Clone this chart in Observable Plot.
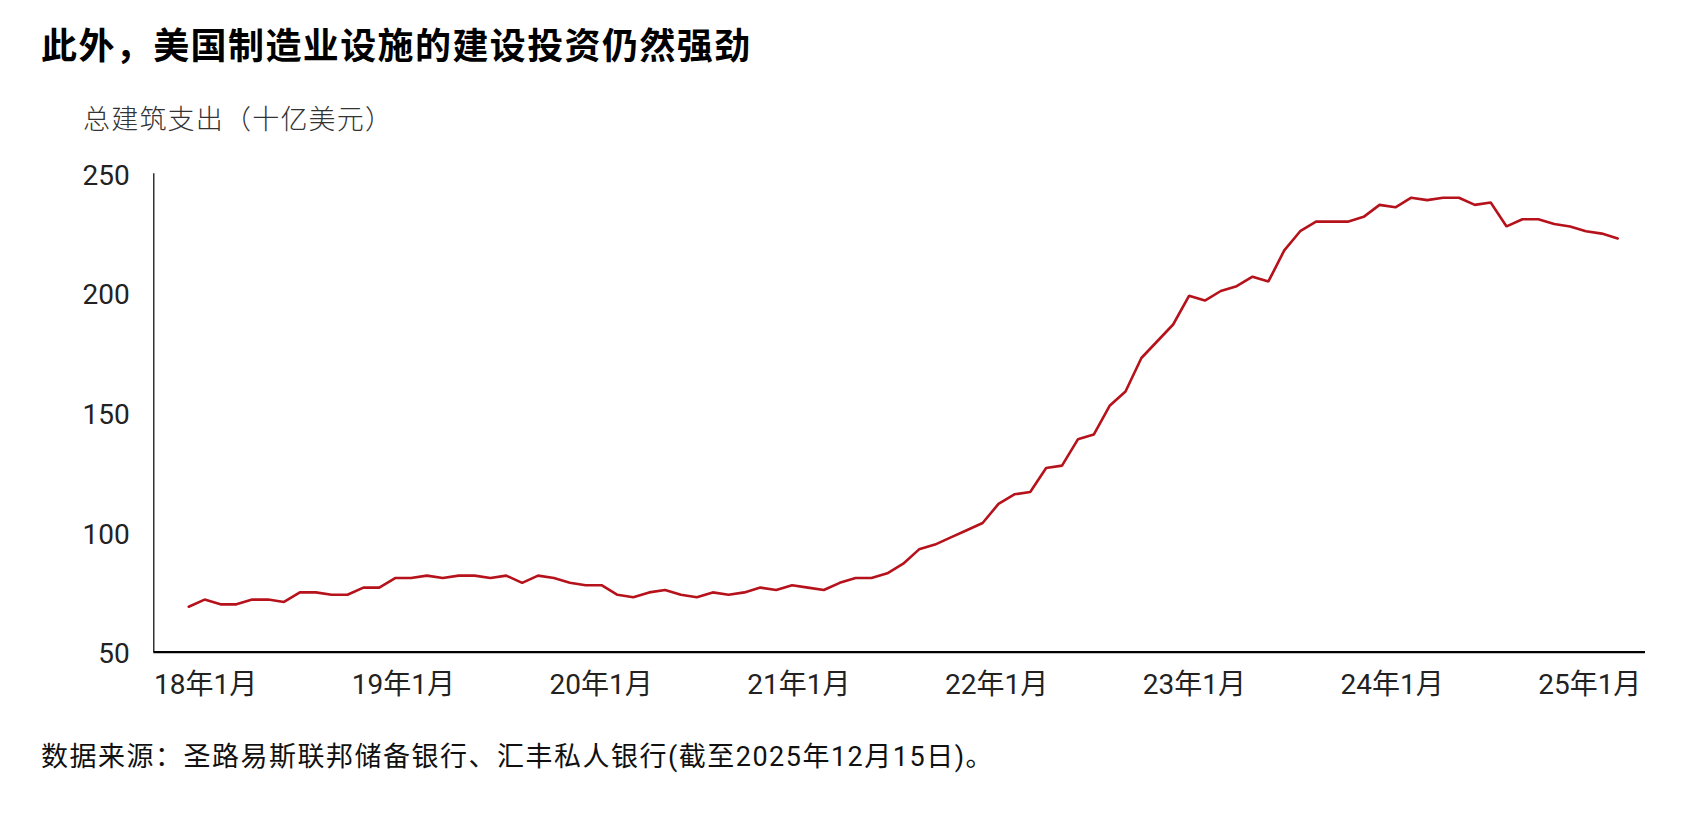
<!DOCTYPE html>
<html>
<head>
<meta charset="utf-8">
<script src="https://cdn.jsdelivr.net/npm/d3@7"></script>
<script src="https://cdn.jsdelivr.net/npm/@observablehq/plot@0.6"></script>
<style>
  html, body { margin: 0; padding: 0; background: #fff; }
  body { width: 1681px; height: 816px; position: relative; overflow: hidden; font-family: Roboto, "Noto Sans CJK SC", sans-serif; color: #111; }
  .title { position: absolute; left: 41px; top: 20px; font-family: "Noto Sans CJK SC", sans-serif; font-weight: 700; font-size: 36px; line-height: 46px; color: #000; letter-spacing: 1.4px; white-space: nowrap; }
  .subtitle { position: absolute; left: 83px; top: 100px; font-family: "Noto Sans CJK SC", sans-serif; font-weight: 300; font-size: 27px; line-height: 36px; color: #333; letter-spacing: 1.2px; white-space: nowrap; }
  .caption { position: absolute; left: 41px; top: 740px; font-family: Roboto, "Noto Sans CJK SC", sans-serif; font-size: 27px; line-height: 34px; color: #111; letter-spacing: 1.5px; white-space: nowrap; }
  #chart { position: absolute; left: 0; top: 150px; }
</style>
</head>
<body>
<div class="title" id="title"></div>
<div class="subtitle" id="subtitle"></div>
<div id="chart"></div>
<div class="caption" id="caption"></div>
<script>
// ---- Data (monthly, billions USD), Jan 2018 onward ----
const startYear = 2018;
const values2018 = [69, 72, 70, 70, 72, 72, 71, 75, 75, 74, 74, 77];
const values2019 = [77, 81, 81, 82, 81, 82, 82, 81, 82, 79, 82, 81];
const values2020 = [79, 78, 78, 74, 73, 75, 76, 74, 73, 75, 74, 75];
const values2021 = [77, 76, 78, 77, 76, 79, 81, 81, 83, 87, 93, 95];
const values2022 = [98, 101, 104, 112, 116, 117, 127, 128, 139, 141, 153, 159];
const values2023 = [173, 180, 187, 199, 197, 201, 203, 207, 205, 218, 226, 230];
const values2024 = [230, 230, 232, 237, 236, 240, 239, 240, 240, 237, 238, 228];
const values2025 = [231, 231, 229, 228, 226, 225, 223];

const xTickLabels = ["18年1月", "19年1月", "20年1月", "21年1月", "22年1月", "23年1月", "24年1月", "25年1月"];
const yTicks = [50, 100, 150, 200, 250];

const titleText = "此外，美国制造业设施的建设投资仍然强劲";
const subtitleText = "总建筑支出（十亿美元）";
const captionText = "数据来源：圣路易斯联邦储备银行、汇丰私人银行(截至2025年12月15日)。";

// ---- Build table ----
const allValues = [values2018, values2019, values2020, values2021, values2022, values2023, values2024, values2025].flat();
const table = allValues.map((v, i) => ({
  month: i,
  date: new Date(Date.UTC(startYear, i, 1)),
  value: v
}));

document.getElementById("title").textContent = titleText;
document.getElementById("subtitle").textContent = subtitleText;
document.getElementById("caption").textContent = captionText;

// Layout: axis extends a little beyond the data on both sides;
// year labels are spread evenly across the axis, as in the reference.
const xDomain = [-2.2, 91.75];
const labelFirst = 1.07, labelLast = 88.24;
const xTickPos = xTickLabels.map((_, k) => labelFirst + k * (labelLast - labelFirst) / (xTickLabels.length - 1));

const chart = Plot.plot({
  width: 1681,
  height: 570,
  marginTop: 23.3,
  marginBottom: 68.3,
  marginLeft: 153.3,
  marginRight: 36,
  style: { fontFamily: 'Roboto, "Noto Sans CJK SC", sans-serif', fontSize: "28px", color: "#222", background: "#fff", overflow: "visible" },
  x: { type: "linear", domain: xDomain },
  y: { domain: [50, 250] },
  marks: [
    Plot.axisY({ ticks: yTicks, tickSize: 0, tickPadding: 24, tickFormat: d => String(d), label: null, fontSize: 28, dy: 2 }),
    Plot.axisX({ ticks: xTickPos, tickSize: 0, tickPadding: 22, tickFormat: (d, i) => xTickLabels[i], label: null, fontSize: 28 }),
    Plot.ruleX([xDomain[0]], { y1: yTicks[0], y2: yTicks[yTicks.length - 1], stroke: "#000", strokeWidth: 1.2 }),
    Plot.lineY(table, { x: "month", y: "value", stroke: "#b5121b", strokeWidth: 2.6, strokeLinejoin: "miter" }),
    Plot.ruleY([yTicks[0]], { stroke: "#000", strokeWidth: 2.2 })
  ]
});
document.getElementById("chart").appendChild(chart);
</script>
</body>
</html>
